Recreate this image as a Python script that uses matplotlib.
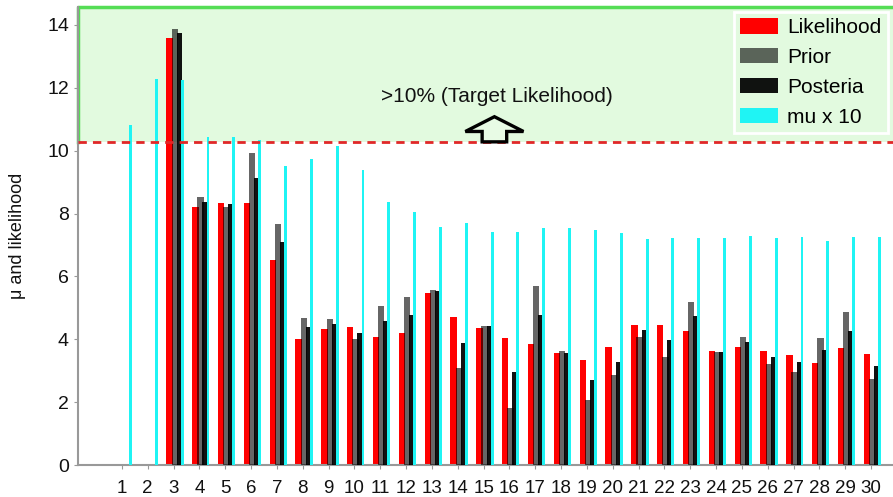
import numpy as np
import matplotlib.pyplot as plt
import matplotlib.patches as mpatches

plt.rcParams['font.family'] = ['Liberation Sans', 'DejaVu Sans']

# per-sample values, samples 1..30
samples = np.arange(1, 31)
likelihood = [0, 0, 13.58, 8.2, 8.33, 8.35, 6.52, 4.01, 4.33, 4.39,
              4.07, 4.2, 5.47, 4.71, 4.36, 4.04, 3.85, 3.56, 3.34, 3.75,
              4.45, 4.45, 4.26, 3.63, 3.75, 3.63, 3.5, 3.25, 3.72, 3.53]
prior = [0, 0, 13.87, 8.53, 8.2, 9.93, 7.67, 4.68, 4.65, 4.01,
         5.06, 5.35, 5.57, 3.09, 4.42, 1.81, 5.69, 3.63, 2.07, 2.86,
         4.07, 3.44, 5.19, 3.6, 4.07, 3.21, 2.96, 4.04, 4.87, 2.74]
posteria = [0, 0, 13.74, 8.37, 8.3, 9.13, 7.1, 4.39, 4.49, 4.2,
            4.58, 4.77, 5.54, 3.88, 4.42, 2.96, 4.77, 3.56, 2.7, 3.28,
            4.3, 3.98, 4.74, 3.6, 3.91, 3.44, 3.28, 3.66, 4.26, 3.15]
mu_x10 = [10.82, 12.28, 12.25, 10.44, 10.44, 10.34, 9.51, 9.73, 10.15, 9.39,
          8.37, 8.05, 7.57, 7.7, 7.41, 7.41, 7.54, 7.54, 7.48, 7.38,
          7.19, 7.22, 7.22, 7.22, 7.29, 7.22, 7.25, 7.13, 7.25, 7.25]
target = 10.28

fig = plt.figure(figsize=(8.93, 4.97), dpi=100)
ax = fig.add_axes([78 / 893, 32 / 497, 815 / 893, 458 / 497])
xmin, xmax = -0.70, 30.85
ymax = 14.57
ax.set_xlim(xmin, xmax)
ax.set_ylim(0, ymax)

# shaded zone above the target likelihood
ax.add_patch(mpatches.Rectangle((xmin, target), xmax - xmin, ymax - target,
                                facecolor='#e2fadf', edgecolor='none', zorder=0))
ax.plot([xmin, xmin, xmax], [target, ymax, ymax], color='#55dd55', lw=2.5,
        clip_on=False, zorder=1)

ax.bar(samples - 0.16, likelihood, width=0.25, color='#ff0000', label='Likelihood', zorder=2)
ax.bar(samples + 0.04, prior, width=0.24, color='black', alpha=0.6, label='Prior', zorder=3)
ax.bar(samples + 0.22, posteria, width=0.21, color='black', alpha=0.93, label='Posteria', zorder=4)
ax.bar(samples + 0.33, mu_x10, width=0.11, color='#1ff4f4', label='mu x 10', zorder=5)

ax.axhline(target, color='#e02828', lw=2, ls=(0, (3, 2.2)), zorder=6)

# hollow arrow pointing into the target zone
ax.add_patch(mpatches.FancyArrow(15.42, target, 0, 0.8, width=0.95, head_width=2.25,
                                 head_length=0.47, length_includes_head=True,
                                 facecolor='#e8fbe5', edgecolor='black', lw=2.4, zorder=7))
ax.text(15.5, 11.72, '>10% (Target Likelihood)', ha='center', va='center',
        fontsize=15, color='#111111', zorder=7)

for side in ['top', 'right']:
    ax.spines[side].set_visible(False)
for side in ['left', 'bottom']:
    ax.spines[side].set_color('#999999')
    ax.spines[side].set_linewidth(1.5)

ax.set_xticks(samples)
ax.set_yticks(np.arange(0, 15, 2))
ax.tick_params(axis='both', colors='#999999', length=3, labelcolor='#111111', labelsize=14)
ax.tick_params(axis='x', pad=8, labelsize=13.5)
ax.set_ylabel('μ and likelihood', fontsize=13, labelpad=15, color='#111111')

leg = ax.legend(loc='upper left', bbox_to_anchor=(0.805, 0.989), fontsize=15,
                frameon=True, fancybox=False,
                facecolor='#e2fadf', edgecolor='white', framealpha=1,
                handlelength=1.8, handleheight=0.75, handletextpad=0.45,
                labelspacing=0.52, borderaxespad=0, borderpad=0.3)
leg.get_frame().set_linewidth(2)
leg.set_zorder(8)

fig.savefig('out.png', dpi=100)
